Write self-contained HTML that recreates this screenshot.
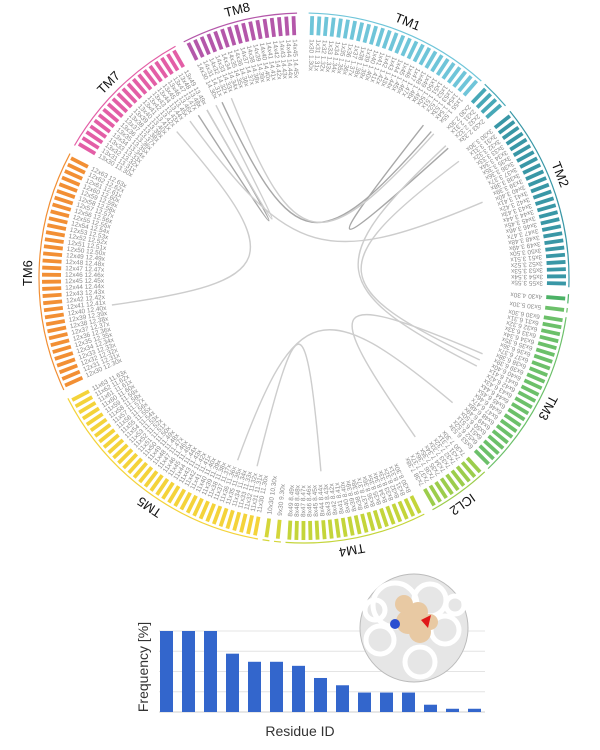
<!DOCTYPE html>
<html><head><meta charset="utf-8"><style>
body{margin:0;background:#fff;width:600px;height:750px;overflow:hidden;font-family:"Liberation Sans",sans-serif}
svg{position:absolute;left:0;top:0}
</style></head><body>
<svg id="s" width="600" height="750" viewBox="0 0 600 750">
<g id="circ"></g>
<g id="chords"></g>
<g id="bars"></g>
</svg>
<script>
const segNames=["TM1","ICL1","TM2","H23a","H3b","TM3","ICL2","TM4","E2a","E2b","TM5","TM6","TM7","TM8"];
const segStart=[1,43,51,93.5,96.5,98.5,137,153,185,187.5,190,245,300,333];
const segEnd=[42,49.5,92,95.5,97.5,136,151,184,186.5,189,243,298,331,358.5];
const segColors=["#6fc5d9","#47a8b7","#3997a6","#4cb266","#6cc06a","#6cc06a","#9ccd4c","#c4d53a","#d4d63a","#d4d63a","#f4d33a","#f28f34","#e35ea6","#b457aa"];
const labelNames=["TM1","TM2","TM3","ICL2","TM4","TM5","TM6","TM7","TM8"];
const labelAngles=[22,68,118,145,170,214,271,315,346];
// chord endpoints (degrees)
const chordFrom=[319,327,335,38,324,53,47,200,194,145,338,330];
const chordTo=[262,330,41,48,67,115,117,130,175,113,42,333];
const chordDark=[0,1,1,1,0,0,0,0,0,0,0,0];

const NS="http://www.w3.org/2000/svg";
const cx=304,cy=278;
function el(t,a,p){const e=document.createElementNS(NS,t);for(const k in a)e.setAttribute(k,a[k]);p.appendChild(e);return e;}
function pt(a,r){const t=a*Math.PI/180;return [cx+r*Math.sin(t),cy-r*Math.cos(t)];}
const circ=document.getElementById('circ');
for(let i=0;i<segNames.length;i++){
  const a0=segStart[i],a1=segEnd[i],col=segColors[i];
  const p0=pt(a0,265),p1=pt(a1,265);
  const arc=el('path',{d:`M${p0[0]},${p0[1]} A265,265 0 ${a1-a0>180?1:0} 1 ${p1[0]},${p1[1]}`,fill:'none',stroke:col,'stroke-width':1.2},circ);
  
  
  const step=1.55;let n=Math.max(1,Math.round((a1-a0)/step));const st=(a1-a0)/n;
  for(let j=0;j<n;j++){
    const a=a0+st*(j+0.5);
    const q0=pt(a,243),q1=pt(a,262);
    const b=el('line',{x1:q0[0],y1:q0[1],x2:q1[0],y2:q1[1],stroke:col,'stroke-width':3.8},circ);
    
    
    const lbl=el('text',{x:0,y:0,'font-size':6.5,fill:'#8a8a8a','text-anchor':'start','dominant-baseline':'middle',transform:`translate(${pt(a,239).join(',')}) rotate(${a+90})`},circ);
    lbl.textContent=(i+1)+"x"+(30+j)+" "+(i+1)+"."+(30+j)+"x";
    
    
  }
}
for(let i=0;i<labelNames.length;i++){
  const p=pt(labelAngles[i],272);
  const t=el('text',{x:0,y:0,'font-size':13,fill:'#111','text-anchor':'middle',transform:`translate(${p[0]},${p[1]}) rotate(${labelAngles[i]})`},circ);
  t.textContent=labelNames[i];
  
  
}
const ch=document.getElementById('chords');
for(let i=0;i<chordFrom.length;i++){
  const p0=pt(chordFrom[i],194),p1=pt(chordTo[i],194);
  const c0=pt(chordFrom[i],25),c1=pt(chordTo[i],25);
  const c=el('path',{d:`M${p0[0]},${p0[1]} C${c0[0]},${c0[1]} ${c1[0]},${c1[1]} ${p1[0]},${p1[1]}`,fill:'none',stroke:chordDark[i]?'#a8a8a8':'#cdcdcd','stroke-width':1.4},ch);
  
  
}
const residues=["r1","r2","r3","r4","r5","r6","r7","r8","r9","r10","r11","r12","r13","r14","r15"];
const freq=[100,100,100,72,62,62,57,42,33,24,24,24,9,4,4];
const bg=document.getElementById('bars');
const x0=160,pitch=22,bw=13,yb=712,ytop=631;
const ys=v=>yb-(v/100)*(yb-ytop);
[0,25,50,75,100].forEach(v=>{const g=el('line',{x1:159,x2:485,y1:ys(v),y2:ys(v),stroke:v?'#e4e4e4':'#cfcfcf','stroke-width':1},bg);
 });
residues.forEach((r,i)=>{const b=el('rect',{x:x0+i*pitch,y:ys(freq[i]),width:bw,height:yb-ys(freq[i]),fill:'#3366cc'},bg);
 });
const yl=el('text',{x:0,y:0,'font-size':14,fill:'#333','text-anchor':'middle',transform:'translate(148,667) rotate(-90)'},bg);
yl.textContent='Frequency [%]';
const xl=el('text',{x:300,y:736,'font-size':14,fill:'#333','text-anchor':'middle'},bg);
xl.textContent='Residue ID';
const pg=el('g',{},bg);
el('circle',{cx:414,cy:628,r:54,fill:'#e6e6e6',stroke:'#bbb','stroke-width':1},pg);
[[395,605,22],[430,600,16],[445,630,14],[380,640,14],[420,662,15],[375,610,10],[455,605,9]].forEach(c=>el('circle',{cx:c[0],cy:c[1],r:c[2],fill:'none',stroke:'#fff','stroke-width':5},pg));
[[408,622,12],[418,612,10],[420,632,11],[404,604,9],[430,622,8]].forEach(c=>el('circle',{cx:c[0],cy:c[1],r:c[2],fill:'#e8c9a3'},pg));
el('circle',{cx:395,cy:624,r:5,fill:'#2c4fd0'},pg);
el('path',{d:'M421 620 L431 615 L428 628 Z',fill:'#e01818'},pg);
</script>
</body></html>
